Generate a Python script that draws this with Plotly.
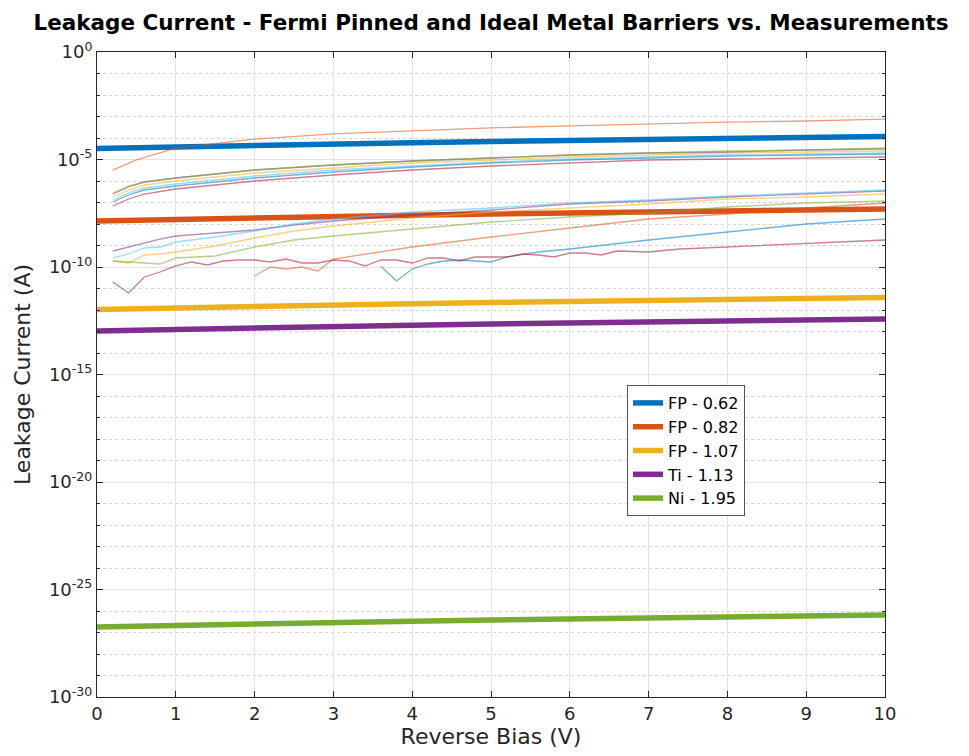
import plotly.graph_objects as go

# ---------------- data (log10 of leakage current in A) ----------------
V_model = [0, 1, 2, 3, 4, 5, 6, 7, 8, 9, 10]
fp062_log = [-4.488, -4.409, -4.340, -4.279, -4.219, -4.163, -4.112, -4.065, -4.019, -3.977, -3.930]
fp082_log = [-7.860, -7.781, -7.711, -7.651, -7.590, -7.534, -7.483, -7.437, -7.390, -7.348, -7.302]
fp107_log = [-11.977, -11.898, -11.828, -11.768, -11.707, -11.651, -11.600, -11.554, -11.507, -11.465, -11.419]
ti113_log = [-12.977, -12.898, -12.828, -12.768, -12.707, -12.651, -12.600, -12.554, -12.507, -12.465, -12.419]
ni195_log = [-26.744, -26.665, -26.595, -26.535, -26.474, -26.418, -26.367, -26.321, -26.274, -26.232, -26.186]
model_names = ["FP - 0.62", "FP - 0.82", "FP - 1.07", "Ti - 1.13", "Ni - 1.95"]

# measurements, upper group
V_up = [0.2, 0.4, 0.6, 1, 1.5, 2, 3, 4, 5, 6, 7, 8, 9, 10]
m1_blue_log = [-6.977, -6.651, -6.419, -6.233, -6.047, -5.860, -5.581, -5.349, -5.163, -5.023, -4.930, -4.837, -4.791, -4.744]
V_up_orange = [0.2, 0.5, 1, 2, 3, 4, 5, 6, 7, 8, 9, 10]
m1_orange_log = [-5.49, -5.02, -4.47, -4.05, -3.81, -3.67, -3.53, -3.44, -3.35, -3.26, -3.21, -3.12]
m1_yellow_log = [-6.744, -6.419, -6.186, -6.000, -5.814, -5.628, -5.395, -5.163, -5.023, -4.884, -4.791, -4.698, -4.651, -4.605]
m1_purple_log = [-6.605, -6.279, -6.047, -5.860, -5.674, -5.488, -5.256, -5.070, -4.930, -4.791, -4.698, -4.651, -4.558, -4.512]
m1_green_log = [-6.558, -6.233, -6.047, -5.860, -5.674, -5.488, -5.256, -5.070, -4.930, -4.791, -4.698, -4.605, -4.558, -4.465]
m1_lightblue_log = [-6.884, -6.558, -6.326, -6.140, -5.953, -5.767, -5.488, -5.302, -5.116, -4.977, -4.884, -4.791, -4.744, -4.698]
m1_darkred_log = [-7.163, -6.837, -6.605, -6.372, -6.186, -6.000, -5.721, -5.488, -5.302, -5.163, -5.023, -4.977, -4.930, -4.884]

# measurements, lower group
V_blue2 = [3.6, 3.8, 4.0, 4.2, 4.4, 4.6, 4.8, 5.0, 5.2, 5.6, 6, 7, 8, 9, 10]
m2_blue_log = [-9.953, -10.651, -10.093, -9.860, -9.721, -9.674, -9.721, -9.767, -9.535, -9.302, -9.163, -8.744, -8.372, -8.000, -7.767]
V_orange2 = [2.0, 2.2, 2.4, 2.6, 2.8, 3.0, 4, 5, 6, 7, 8, 9, 10]
m2_orange_log = [-10.419, -10.000, -10.093, -10.000, -10.186, -9.628, -9.070, -8.605, -8.186, -7.767, -7.535, -7.256, -7.023]
V_mid = [0.2, 0.4, 0.6, 0.8, 1, 1.5, 2, 2.5, 3, 4, 5, 6, 7, 8, 9, 10]
m2_yellow_log = [-9.721, -9.814, -9.442, -9.395, -9.302, -9.023, -8.651, -8.326, -8.093, -7.721, -7.442, -7.256, -7.070, -6.837, -6.744, -6.605]
m2_purple_log = [-9.256, -9.070, -8.884, -8.698, -8.558, -8.419, -8.279, -8.047, -7.860, -7.581, -7.349, -7.070, -6.930, -6.744, -6.605, -6.465]
m2_green_log = [-9.721, -9.767, -9.814, -9.860, -9.581, -9.488, -9.070, -8.744, -8.558, -8.233, -7.907, -7.674, -7.488, -7.209, -7.023, -6.930]
m2_lightblue_log = [-9.581, -9.395, -9.116, -9.070, -8.837, -8.605, -8.326, -8.000, -7.767, -7.442, -7.256, -7.023, -6.884, -6.698, -6.558, -6.419]
V_darkred2 = [0.2, 0.4, 0.6, 0.8, 1.0, 1.2, 1.4, 1.6, 1.8, 2.0, 2.2, 2.4, 2.6, 2.8, 3.0, 3.2, 3.4, 3.6, 3.8, 4.0,
              4.2, 4.4, 4.6, 4.8, 5.0, 5.2, 5.4, 5.6, 5.8, 6.0, 6.2, 6.4, 6.6, 7.0, 7.4, 8, 9, 10]
m2_darkred_log = [-10.698, -11.209, -10.465, -10.233, -9.953, -9.767, -9.907, -9.721, -9.674, -9.674, -9.767, -9.628,
                  -9.814, -9.814, -9.674, -9.721, -9.953, -9.674, -9.674, -9.814, -9.581, -9.581, -9.721, -9.535,
                  -9.535, -9.535, -9.395, -9.442, -9.535, -9.349, -9.349, -9.442, -9.256, -9.302, -9.163, -9.070,
                  -8.930, -8.744]

y_tick_exp = [0, -5, -10, -15, -20, -25, -30]
x_ticks = [0, 1, 2, 3, 4, 5, 6, 7, 8, 9, 10]

# ---------------- styling ----------------
C_BLUE, C_ORANGE, C_YELLOW = "#0072BD", "#D95319", "#EDB120"
C_PURPLE, C_GREEN, C_LBLUE, C_DRED = "#7E2F8E", "#77AC30", "#4DBEEE", "#A2142F"

fig = go.Figure()

models = [fp062_log, fp082_log, fp107_log, ti113_log, ni195_log]
model_colors = [C_BLUE, C_ORANGE, C_YELLOW, C_PURPLE, C_GREEN]
for name, vals, col in zip(model_names, models, model_colors):
    fig.add_trace(go.Scatter(x=V_model, y=[10 ** v for v in vals], mode="lines", name=name,
                             line=dict(color=col, width=5.5)))

meas = [
    (V_up, m1_blue_log, C_BLUE), (V_up_orange, m1_orange_log, C_ORANGE), (V_up, m1_yellow_log, C_YELLOW),
    (V_up, m1_purple_log, C_PURPLE), (V_up, m1_green_log, C_GREEN), (V_up, m1_lightblue_log, C_LBLUE),
    (V_up, m1_darkred_log, C_DRED),
    (V_blue2, m2_blue_log, C_BLUE), (V_orange2, m2_orange_log, C_ORANGE), (V_mid, m2_yellow_log, C_YELLOW),
    (V_mid, m2_purple_log, C_PURPLE), (V_mid, m2_green_log, C_GREEN), (V_mid, m2_lightblue_log, C_LBLUE),
    (V_darkred2, m2_darkred_log, C_DRED),
]
for xs, vals, col in meas:
    fig.add_trace(go.Scatter(x=xs, y=[10 ** v for v in vals], mode="lines", showlegend=False,
                             line=dict(color=col, width=1.3), opacity=0.55, hoverinfo="skip"))

AX = "#262626"
FONT = "DejaVu Sans"
minor_vals = [10.0 ** (-k) for k in range(1, 30) if k % 5 != 0]

# the page body has an 8px margin, so the figure is drawn 8px in from the window's corner
W, H = 961, 748
fig.update_layout(
    width=W, height=H,
    margin=dict(l=89, r=84, t=44, b=59),
    paper_bgcolor="white", plot_bgcolor="white",
    font=dict(family=FONT, size=18, color=AX),
    title=dict(text="<b>Leakage Current - Fermi Pinned and Ideal Metal Barriers vs. Measurements</b>",
               x=0.5, xref="paper", xanchor="center", y=1 - 14 / H, yanchor="middle",
               font=dict(family=FONT, size=21.5, color="black")),
    legend=dict(x=0.6726, y=0.4837, xanchor="left", yanchor="top", bgcolor="white",
                bordercolor="#555555", borderwidth=1, font=dict(size=16, color="black"),
                tracegroupgap=0, itemwidth=30),
    showlegend=True,
)
fig.update_xaxes(
    range=[0, 10], tickvals=x_ticks, ticktext=[str(t) for t in x_ticks],
    ticks="inside", ticklen=6, tickcolor=AX, showline=True, linecolor=AX, linewidth=1,
    mirror="ticks", showgrid=True, gridcolor="#e3e3e3", gridwidth=1, zeroline=False,
    automargin=False,
    title=dict(text="Reverse Bias (V)", standoff=6), tickfont=dict(size=18),
)
fig.update_yaxes(
    type="log", range=[-30, 0],
    tickvals=[10.0 ** e for e in y_tick_exp], ticktext=["10<sup>%d</sup>" % e for e in y_tick_exp],
    ticks="inside", ticklen=6, tickcolor=AX, showline=True, linecolor=AX, linewidth=1,
    mirror="ticks", showgrid=True, gridcolor="#e3e3e3", gridwidth=1, zeroline=False,
    automargin=False,
    minor=dict(tickvals=minor_vals, ticks="inside", ticklen=3, tickcolor=AX, showgrid=True,
               gridcolor="#d6d6d6", griddash="dot", gridwidth=1),
    title=dict(text="Leakage Current (A)", standoff=12), tickfont=dict(size=18),
)

fig.write_html("out.html")
